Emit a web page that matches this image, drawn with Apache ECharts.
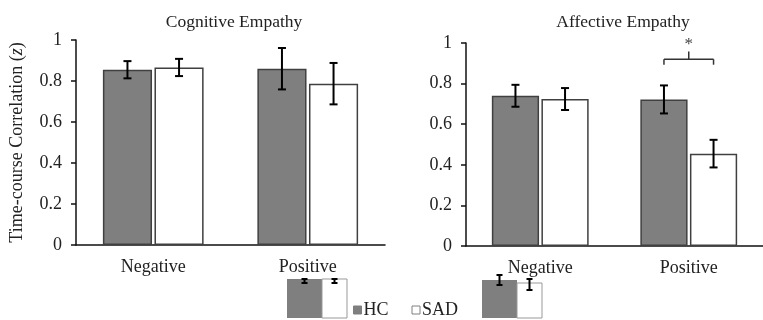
<!DOCTYPE html>
<html>
<head>
<meta charset="utf-8">
<script src="https://cdn.jsdelivr.net/npm/echarts@6/dist/echarts.min.js"></script>
<style>html,body{margin:0;padding:0;background:#fff;}#c{width:763px;height:320px;}</style>
</head>
<body>
<div id="c"></div>
<script>
// ---- data ----
var categories = ['Negative', 'Positive'];
var panelTitles = ['Cognitive Empathy', 'Affective Empathy'];
var yTicks = [0, 0.2, 0.4, 0.6, 0.8, 1];
// Cognitive
var cogHC = [0.855, 0.860];
var cogHCerr = [0.042, 0.101];
var cogSAD = [0.866, 0.787];
var cogSADerr = [0.042, 0.101];
// Affective
var affHC = [0.740, 0.722];
var affHCerr = [0.054, 0.069];
var affSAD = [0.724, 0.455];
var affSADerr = [0.054, 0.068];
// significance bracket: [category, bracketY, legY, stemY, starY]
var sigBracket = [[1, 0.92, 0.893, 0.958, 0.99]];

var FONT = '"Liberation Serif", "Times New Roman", serif';
var BW = 0.318, GAP = 0.05;
var barOffRatio = BW * (1 + GAP) / 2;

function errSeries(name, grid, means, errs, sign) {
  return {
    type: 'custom', xAxisIndex: grid, yAxisIndex: grid, z: 5, silent: true,
    data: means.map(function (m, i) { return [i, m - errs[i], m + errs[i]]; }),
    renderItem: function (params, api) {
      var band = api.size([1, 0])[0];
      var off = sign * band * barOffRatio;
      var lo = api.coord([api.value(0), api.value(1)]);
      var hi = api.coord([api.value(0), api.value(2)]);
      var x = lo[0] + off, c = 4;
      var st = { stroke: '#000', lineWidth: 2 };
      return { type: 'group', children: [
        { type: 'line', shape: { x1: x, y1: lo[1], x2: x, y2: hi[1] }, style: st },
        { type: 'line', shape: { x1: x - c, y1: lo[1], x2: x + c, y2: lo[1] }, style: st },
        { type: 'line', shape: { x1: x - c, y1: hi[1], x2: x + c, y2: hi[1] }, style: st }
      ]};
    }
  };
}

var hcStyle = { color: '#7f7f7f', borderColor: '#404040', borderWidth: 1.5 };
var sadStyle = { color: '#ffffff', borderColor: '#404040', borderWidth: 1.5 };

function barSeries(name, grid, vals, style) {
  return { name: name, type: 'bar', xAxisIndex: grid, yAxisIndex: grid,
    data: vals, barWidth: (BW * 100) + '%', barGap: (GAP * 100) + '%',
    itemStyle: style, silent: true, animation: false };
}

var grids = [
  { left: 76, top: 40, width: 309, height: 205 },
  { left: 466, top: 43, width: 309, height: 203 }
];

function xAx(i) {
  return { type: 'category', gridIndex: i, data: categories,
    axisLine: { lineStyle: { color: '#111', width: 1.5 } },
    axisTick: { show: false },
    axisLabel: { color: '#222', fontFamily: FONT, fontSize: 18, margin: 13 } };
}
function yAx(i) {
  var o = { type: 'value', gridIndex: i, min: 0, max: 1, interval: 0.2,
    axisLine: { show: true, lineStyle: { color: '#111', width: 1.5 } },
    axisTick: { show: true, length: 5, lineStyle: { color: '#111', width: 1.5 } },
    splitLine: { show: false },
    axisLabel: { color: '#222', fontFamily: FONT, fontSize: 18, margin: 14,
      formatter: function (v) { return String(+v.toFixed(1)); } } };
  if (i === 0) {
    o.name = '{n|Time-course Correlation (}{i|z}{n|)}';
    o.nameLocation = 'middle';
    o.nameGap = 50;
    o.nameTextStyle = { rich: {
      n: { fontFamily: FONT, fontSize: 18, color: '#222' },
      i: { fontFamily: FONT, fontSize: 18, color: '#222', fontStyle: 'italic' } } };
  }
  return o;
}

var bracket = {
  type: 'custom', xAxisIndex: 1, yAxisIndex: 1, z: 6, silent: true,
  data: sigBracket,
  renderItem: function (params, api) {
    var band = api.size([1, 0])[0];
    var off = band * barOffRatio;
    var cat = api.value(0);
    var pY = api.coord([cat, api.value(1)]);
    var pL = api.coord([cat, api.value(2)]);
    var pS = api.coord([cat, api.value(3)]);
    var pT = api.coord([cat, api.value(4)]);
    var x0 = pY[0] - off, x1 = pY[0] + off;
    var st = { stroke: '#333', lineWidth: 1.5 };
    return { type: 'group', children: [
      { type: 'line', shape: { x1: x0, y1: pY[1], x2: x1, y2: pY[1] }, style: st },
      { type: 'line', shape: { x1: x0, y1: pY[1], x2: x0, y2: pL[1] }, style: st },
      { type: 'line', shape: { x1: x1, y1: pY[1], x2: x1, y2: pL[1] }, style: st },
      { type: 'line', shape: { x1: pY[0], y1: pY[1], x2: pY[0], y2: pS[1] }, style: st },
      { type: 'text', style: { text: '*', x: pY[0], y: pT[1], align: 'center', verticalAlign: 'middle',
        font: '17px ' + FONT, fill: '#444' } }
    ]};
  }
};

// decorative legend-image fragments as they appear in the figure
function artifact(x, wGray, wWhite, topG, topW, eG, eW) {
  var st = { stroke: '#000', lineWidth: 2 };
  var ch = [
    { type: 'rect', shape: { x: x, y: topG, width: wGray, height: 318 - topG }, style: { fill: '#7f7f7f' } },
    { type: 'rect', shape: { x: x + wGray, y: topW, width: wWhite, height: 318 - topW }, style: { fill: '#fff', stroke: '#999', lineWidth: 1 } }
  ];
  [[x + wGray / 2, eG], [x + wGray + wWhite / 2, eW]].forEach(function (p) {
    var cx = p[0], a = p[1][0], b = p[1][1];
    ch.push({ type: 'line', shape: { x1: cx, y1: a, x2: cx, y2: b }, style: st });
    ch.push({ type: 'line', shape: { x1: cx - 3, y1: a, x2: cx + 3, y2: a }, style: st });
    ch.push({ type: 'line', shape: { x1: cx - 3, y1: b, x2: cx + 3, y2: b }, style: st });
  });
  return { type: 'group', silent: true, children: ch };
}

var option = {
  animation: false,
  backgroundColor: '#fff',
  title: [
    { text: panelTitles[0], left: 229, top: 8, textAlign: 'center',
      textStyle: { fontFamily: FONT, fontSize: 17.5, fontWeight: 'normal', color: '#222' } },
    { text: panelTitles[1], left: 618, top: 8, textAlign: 'center',
      textStyle: { fontFamily: FONT, fontSize: 17.5, fontWeight: 'normal', color: '#222' } }
  ],
  legend: {
    left: 348, top: 296, itemWidth: 8, itemHeight: 8, itemGap: 23,
    icon: 'rect', selectedMode: false,
    textStyle: { fontFamily: FONT, fontSize: 18, color: '#222', padding: [0, 0, 0, -3] },
    data: [
      { name: 'HC', itemStyle: { color: '#7f7f7f', borderColor: '#7f7f7f', borderWidth: 1 } },
      { name: 'SAD', itemStyle: { color: '#fff', borderColor: '#808080', borderWidth: 1 } }
    ]
  },
  grid: grids,
  xAxis: [xAx(0), xAx(1)],
  yAxis: [yAx(0), yAx(1)],
  series: [
    barSeries('HC', 0, cogHC, hcStyle),
    barSeries('SAD', 0, cogSAD, sadStyle),
    barSeries('HC', 1, affHC, hcStyle),
    barSeries('SAD', 1, affSAD, sadStyle),
    errSeries('HCerr', 0, cogHC, cogHCerr, -1),
    errSeries('SADerr', 0, cogSAD, cogSADerr, 1),
    errSeries('HCerr', 1, affHC, affHCerr, -1),
    errSeries('SADerr', 1, affSAD, affSADerr, 1),
    bracket
  ],
  graphic: [
    artifact(287, 35, 25, 279, 279, [279, 283], [279, 283]),
    artifact(482, 35, 25, 280, 283, [275, 285], [279, 290])
  ]
};

var chart = echarts.init(document.getElementById('c'), null, { renderer: 'canvas' });
chart.setOption(option);
</script>
</body>
</html>
